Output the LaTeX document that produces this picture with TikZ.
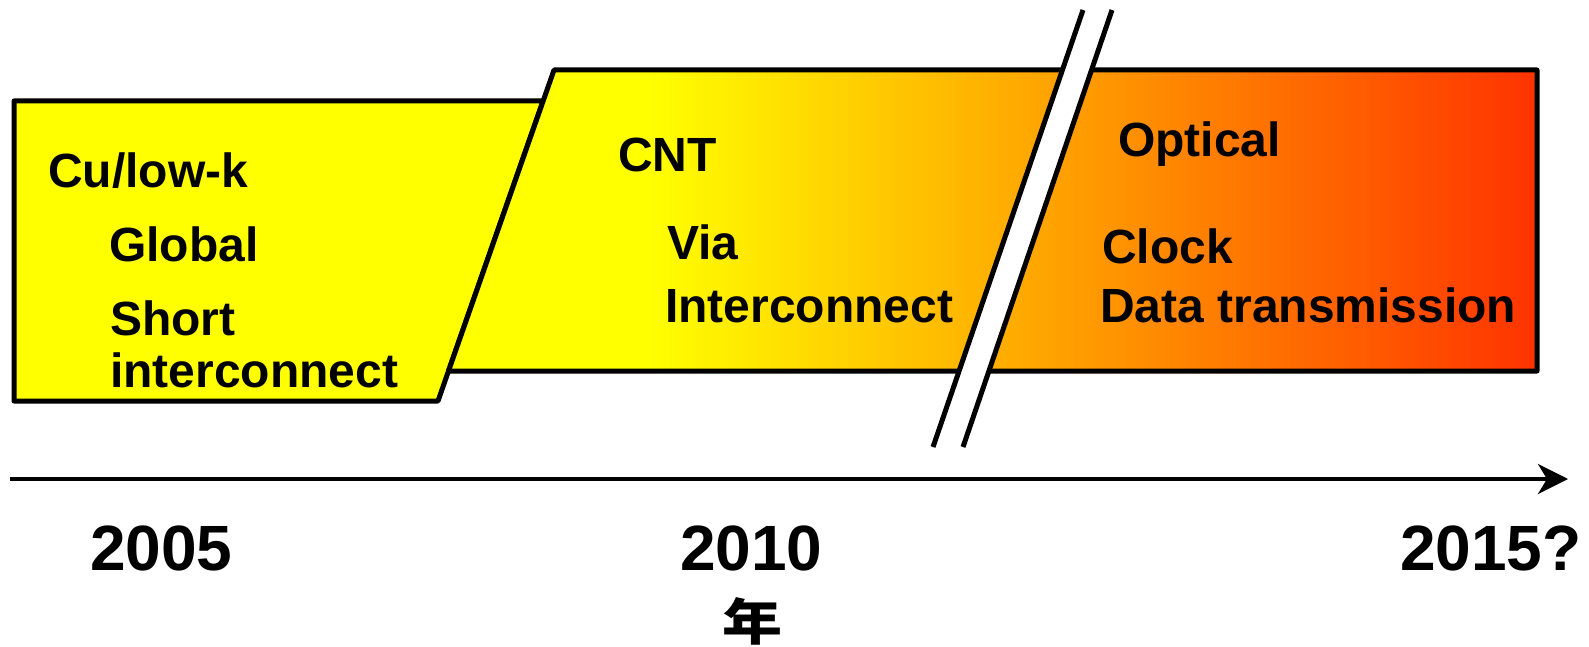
\documentclass[tikz,border=0pt]{standalone}
\usepackage{fontspec}
\setmainfont{Liberation Sans}
\newfontfamily\cjkfont{Noto Sans CJK SC}
\usetikzlibrary{arrows.meta}
\definecolor{lemon}{RGB}{255,255,0}
\definecolor{hotred}{RGB}{255,51,0}

\begin{document}
\begin{tikzpicture}[x=1pt,y=-1pt,
  outline/.style={line width=5pt, line join=round},
  breakline/.style={line width=5pt},
  txt/.style={anchor=base west, inner sep=0pt, font=\fontsize{48}{58}\selectfont\bfseries},
  yeartxt/.style={anchor=base west, inner sep=0pt, font=\fontsize{64}{76}\selectfont\bfseries}]
\useasboundingbox (0,0) rectangle (1589,647);

% first era: Cu/low-k
\draw[outline, fill=lemon] (14,101) -- (543,101) -- (438,401) -- (14,401) -- cycle;

% later eras: yellow fading to red
\begin{scope}
  \clip (554,70) -- (1537,70) -- (1537,371) -- (448.5,371) -- cycle;
  \fill[lemon] (440,60) rectangle (650,380);
  \shade[left color=lemon, right color=hotred] (650,60) rectangle (1537,380);
\end{scope}
\draw[outline] (554,70) -- (1537,70) -- (1537,371) -- (448.5,371) -- cycle;

% break marks
\coordinate (b1t) at (1083,10);
\coordinate (b1b) at (933,447);
\coordinate (b2t) at (1112,10);
\coordinate (b2b) at (963,447);
\fill[white] (b1t) -- (b2t) -- (b2b) -- (b1b) -- cycle;
\draw[breakline] (b1t) -- (b1b);
\draw[breakline] (b2t) -- (b2b);

% time axis
\coordinate (axL) at (10,479);
\coordinate (axR) at (1568,479);
\draw[line width=4pt, -{Stealth[length=30pt, width=30pt, inset=9pt]}] (axL) -- (axR);

% labels
\node[txt] (cu) at (48,187) {Cu/low-k};
\node[txt] (glob) at (109,261) {Global};
\node[txt] (short) at (110,335) {Short};
\node[txt] (inter1) at (110,387) {interconnect};

\node[txt] (cnt) at (618,172) {CNT};
\node[txt] (via) at (667,259) {Via};
\node[txt] (inter2) at (665,322) {Interconnect};

\node[txt] (opt) at (1118,157) {Optical};
\node[txt] (clk) at (1102,263) {Clock};
\node[txt] (data) at (1100,322) {Data transmission};

\node[yeartxt] (y05) at (90,570) {2005};
\node[yeartxt] (y10) at (680,570) {2010};
\node[yeartxt] (y15) at (1400,570) {2015?};
\node[inner sep=0pt, font=\fontsize{50}{60}\selectfont\cjkfont\bfseries, xscale=1.2] (nian) at (752,621) {年};
\end{tikzpicture}
\end{document}
